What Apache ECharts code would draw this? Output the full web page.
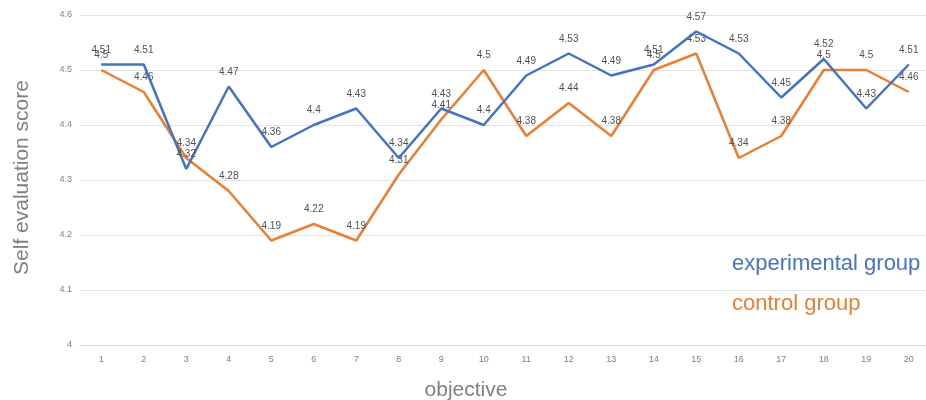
<!DOCTYPE html>
<html>
<head>
<meta charset="utf-8">
<style>
  html, body { margin: 0; padding: 0; background: #fff; }
  #chart { width: 926px; height: 400px; }
</style>
<script src="https://cdn.jsdelivr.net/npm/echarts@6/dist/echarts.min.js"></script>
</head>
<body>
<div id="chart"></div>
<script>
// Objectives 1..20 on the category axis
const objectives = ['1','2','3','4','5','6','7','8','9','10','11','12','13','14','15','16','17','18','19','20'];
// Mean self evaluation score per objective
const experimentalGroup = [4.51, 4.51, 4.32, 4.47, 4.36, 4.4, 4.43, 4.34, 4.43, 4.4, 4.49, 4.53, 4.49, 4.51, 4.57, 4.53, 4.45, 4.52, 4.43, 4.51];
const controlGroup = [4.5, 4.46, 4.34, 4.28, 4.19, 4.22, 4.19, 4.31, 4.41, 4.5, 4.38, 4.44, 4.38, 4.5, 4.53, 4.34, 4.38, 4.5, 4.5, 4.46];
const seriesNames = ['experimental group', 'control group'];

const BLUE = '#4472C4';
const ORANGE = '#ED7D31';
const FONT = 'Liberation Sans, Arial, sans-serif';

const chart = echarts.init(document.getElementById('chart'), null, { renderer: 'canvas' });

const labelStyle = {
  show: true,
  position: 'top',
  distance: 9,
  fontSize: 10,
  color: '#505050',
  fontFamily: FONT
};

function lineSeries(name, data, color, z) {
  return {
    name: name,
    type: 'line',
    data: data,
    // tiny transparent markers: the value labels hang off them
    symbol: 'circle',
    symbolSize: 1,
    showSymbol: true,
    lineStyle: { color: color, width: 2.5 },
    itemStyle: { color: 'rgba(0,0,0,0)' },
    label: labelStyle,
    labelLayout: { hideOverlap: false },
    z: z
  };
}

chart.setOption({
  animation: false,
  backgroundColor: '#ffffff',
  grid: { left: 80, top: 15, width: 850, height: 330, containLabel: false, outerBoundsMode: 'none' },
  xAxis: {
    type: 'category',
    data: objectives,
    boundaryGap: true,
    name: 'objective',
    nameLocation: 'middle',
    nameGap: 35,
    nameTextStyle: {
      fontSize: 21, color: '#808080', fontFamily: FONT,
      padding: [0, 78, 0, 0]
    },
    axisLine: { show: true, lineStyle: { color: '#d9d9d9', width: 1 } },
    axisTick: { show: false },
    axisLabel: { fontSize: 9, color: '#7f7f7f', margin: 10, fontFamily: FONT }
  },
  yAxis: {
    type: 'value',
    min: 4,
    max: 4.6,
    interval: 0.1,
    name: 'Self evaluation score',
    nameLocation: 'middle',
    nameGap: 47,
    nameTextStyle: {
      fontSize: 21, color: '#808080', fontFamily: FONT,
      padding: [0, 0, 0, 5]
    },
    axisLine: { show: false },
    axisTick: { show: false },
    axisLabel: {
      fontSize: 9, color: '#7f7f7f', margin: 8, fontFamily: FONT,
      formatter: v => String(Math.round(v * 10) / 10)
    },
    splitLine: { lineStyle: { color: '#e3e3e3', width: 1 } }
  },
  graphic: [
    {
      type: 'text', left: 732, top: 253,
      style: { text: seriesNames[0], fill: BLUE, fontSize: 22, fontFamily: FONT }
    },
    {
      type: 'text', left: 732, top: 293,
      style: { text: seriesNames[1], fill: ORANGE, fontSize: 22, fontFamily: FONT }
    }
  ],
  series: [
    lineSeries(seriesNames[1], controlGroup, ORANGE, 2),
    lineSeries(seriesNames[0], experimentalGroup, BLUE, 3)
  ]
});
</script>
</body>
</html>
